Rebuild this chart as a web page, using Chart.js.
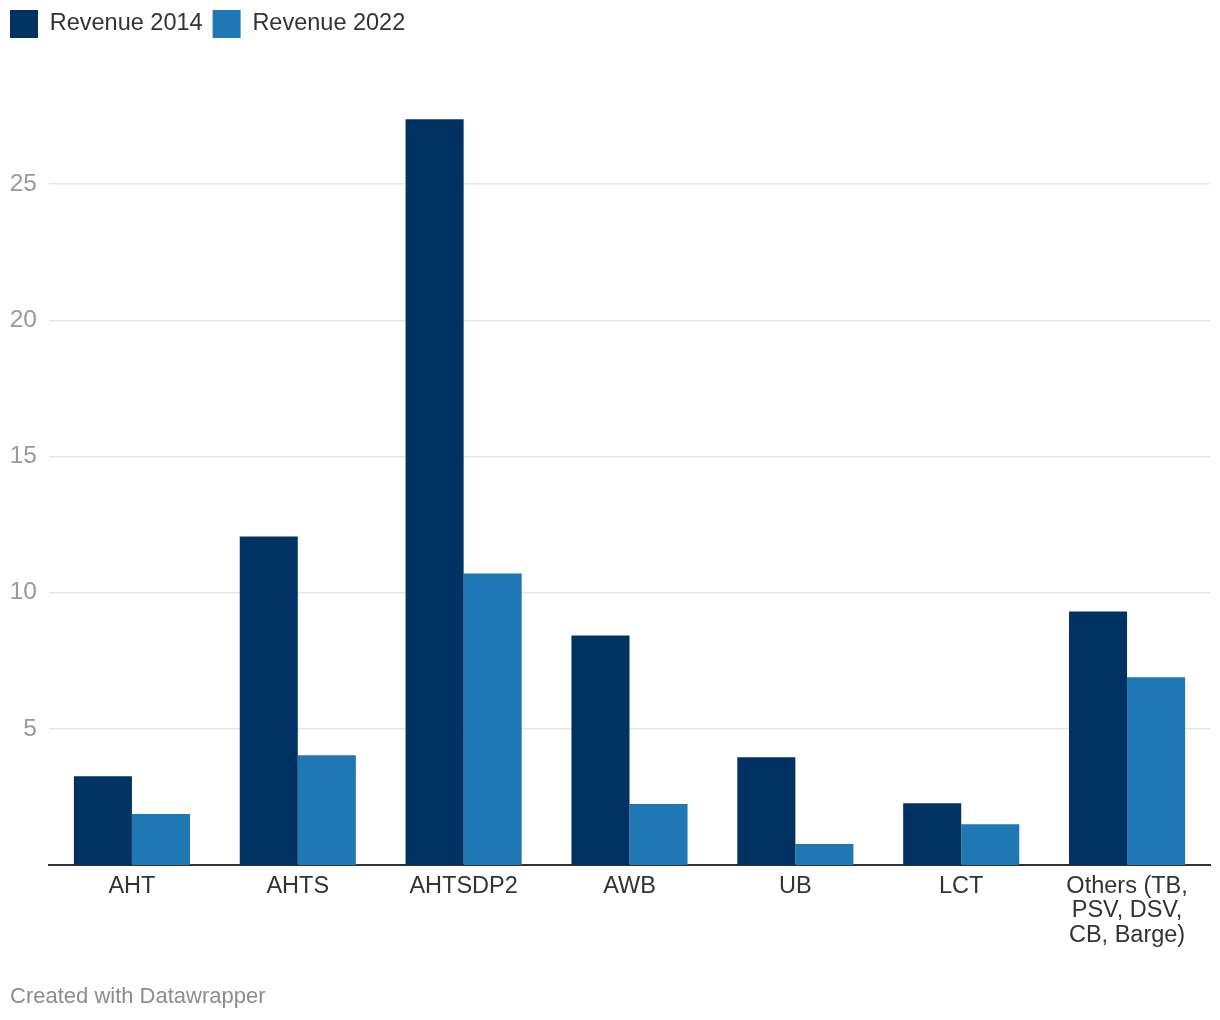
<!DOCTYPE html>
<html>
<head>
<meta charset="utf-8">
<script src="https://cdn.jsdelivr.net/npm/chart.js@4.4.1/dist/chart.umd.min.js"></script>
<style>
  html, body { margin: 0; padding: 0; background: #fff; }
  #wrap { width: 1220px; height: 1020px; position: relative; }
</style>
</head>
<body>
<div id="wrap"><canvas id="chart"></canvas></div>
<script>
// values (revenue, same unit as axis)
const categories = ['AHT', 'AHTS', 'AHTSDP2', 'AWB', 'UB', 'LCT', ['Others (TB,', 'PSV, DSV,', 'CB, Barge)']];
const revenue2014 = [3.26, 12.06, 27.38, 8.43, 3.96, 2.27, 9.31];
const revenue2022 = [1.87, 4.03, 10.70, 2.24, 0.77, 1.50, 6.89];
const yTicks = [5, 10, 15, 20, 25];

const FONT = '"Liberation Sans", Arial, Helvetica, sans-serif';

// footer line under the chart
const footer = {
  id: 'footer',
  afterDraw(chart) {
    const c = chart.ctx;
    c.save();
    c.font = '22px ' + FONT;
    c.fillStyle = '#8c8c8c';
    c.textBaseline = 'middle';
    c.fillText('Created with Datawrapper', 10, 997);
    c.restore();
  }
};

new Chart(document.getElementById('chart'), {
  type: 'bar',
  data: {
    labels: categories,
    datasets: [
      { label: 'Revenue 2014', data: revenue2014, backgroundColor: '#003263' },
      { label: 'Revenue 2022', data: revenue2022, backgroundColor: '#1f77b4' }
    ]
  },
  options: {
    responsive: true,
    maintainAspectRatio: false,
    animation: false,
    events: [],
    layout: { padding: { left: 0, right: 10, top: 0, bottom: 0 } },
    datasets: { bar: { barPercentage: 1.0, categoryPercentage: 0.7 } },
    plugins: {
      legend: {
        position: 'top',
        align: 'start',
        labels: {
          boxWidth: 28, boxHeight: 28, padding: 10,
          color: '#333', font: { family: FONT, size: 23.5 }
        }
      },
      tooltip: { enabled: false }
    },
    scales: {
      x: {
        z: 1,
        grid: { display: false, drawTicks: false },
        border: { display: true, color: '#333', width: 2 },
        ticks: {
          color: '#333', padding: 9, maxRotation: 0, autoSkip: false,
          font: { family: FONT, size: 23.5, lineHeight: 1.04 }
        },
        afterFit(s) { s.height = 155; }
      },
      y: {
        min: 0,
        max: 30,
        grid: { color: '#e6e6e6', lineWidth: 1.5, drawTicks: false },
        border: { display: false },
        ticks: {
          color: '#999', padding: 12,
          font: { family: FONT, size: 24.5 }
        },
        afterBuildTicks(s) { s.ticks = yTicks.map(v => ({ value: v })); },
        afterFit(s) { s.width = 49; }
      }
    }
  },
  plugins: [footer]
});
</script>
</body>
</html>
